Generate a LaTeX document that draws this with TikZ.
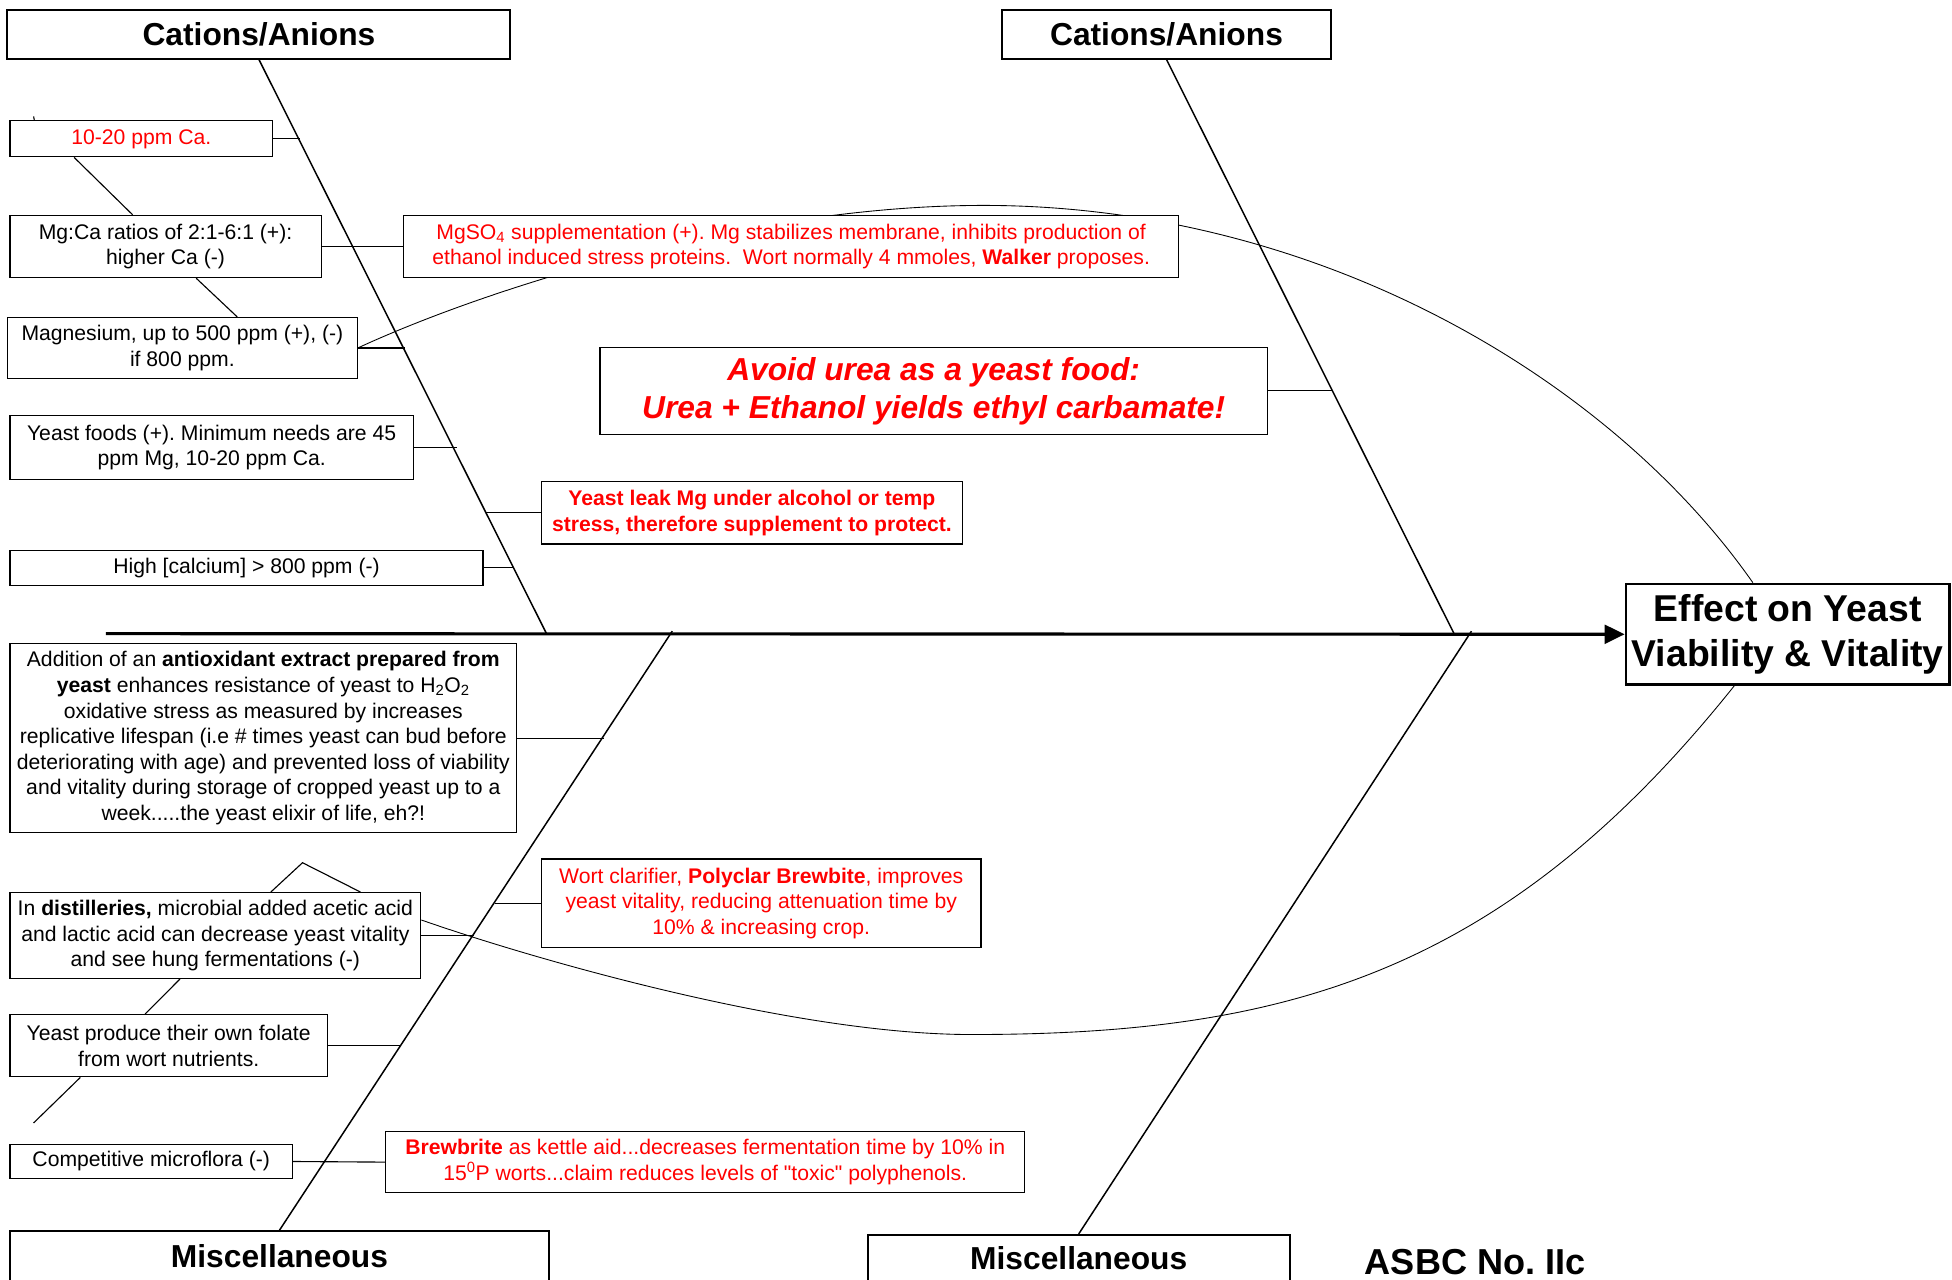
\documentclass[tikz,border=0pt]{standalone}
\usepackage{fontspec}
\setmainfont{Liberation Sans}
\usetikzlibrary{arrows.meta,backgrounds}
\newcommand\fsz[2]{\fontsize{#1}{#2}\selectfont}
\frenchspacing
\begin{document}
\begin{tikzpicture}[x=1pt,y=-1pt,
  box/.style={draw=black, line width=0.9pt, fill=white, inner sep=0pt, align=center, font=\fsz{17}{20.6}},
  redbox/.style={box, text=red},
  hdr/.style={draw=black, line width=1.6pt, fill=white, inner sep=0pt, font=\fsz{25.5}{30}\bfseries},
  bone/.style={line width=1.2pt},
  link/.style={line width=0.9pt},
  loopline/.style={line width=0.7pt},
]
\useasboundingbox (0,0) rectangle (1568,1028);

% headers
\node[hdr, minimum width=404pt, minimum height=39pt] (hTL) at (208,27.5) {Cations/Anions};
\node[hdr, minimum width=264pt, minimum height=39pt] (hTR) at (937,27.5) {Cations/Anions};
\node[hdr, minimum width=433pt, minimum height=40pt] (hBL) at (224.5,1009) {Miscellaneous};
\node[hdr, minimum width=339pt, minimum height=38pt] (hBR) at (866.5,1011) {Miscellaneous};
\node[font=\fsz{29}{34}\bfseries, inner sep=0pt] (asbc) at (1185,1014) {ASBC No. IIc};
\node[draw, line width=2pt, fill=white, inner sep=0pt, align=center, font=\fsz{30}{36}\bfseries,
      minimum width=260pt, minimum height=81pt] (eff) at (1436,509.5) {Effect on Yeast\\Viability \& Vitality};

% cause boxes
\node[redbox, minimum width=211pt, minimum height=29pt] (ca) at (113.5,111.5) {10-20 ppm Ca.};
\node[box, minimum width=250pt, minimum height=50pt] (mgca) at (133,198) {Mg:Ca ratios of 2:1-6:1 (+):\\higher Ca (-)};
\node[box, minimum width=281pt, minimum height=49pt] (magn) at (146.5,279.5) {Magnesium, up to 500 ppm (+), (-)\\if 800 ppm.};
\node[redbox, minimum width=623pt, minimum height=50pt] (mgso) at (635.5,198)
  {MgSO\textsubscript{4} supplementation (+). Mg stabilizes membrane, inhibits production of\\ethanol induced stress proteins.\ \ Wort normally 4 mmoles, \textbf{Walker} proposes.};
\node[box, minimum width=324pt, minimum height=51pt] (yfood) at (170,359.5) {Yeast foods (+). Minimum needs are 45\\ppm Mg, 10-20 ppm Ca.};
\node[redbox, font=\fsz{17}{20.6}\bfseries, minimum width=338pt, minimum height=50pt] (leak) at (604,412)
  {Yeast leak Mg under alcohol or temp\\stress, therefore supplement to protect.};
\node[box, minimum width=380pt, minimum height=28pt] (hical) at (198,456) {High [calcium] > 800 ppm (-)};
\node[redbox, font=\fsz{25.5}{30.5}\bfseries\itshape, minimum width=536pt, minimum height=70pt] (urea) at (750,314)
  {Avoid urea as a yeast food:\\Urea + Ethanol yields ethyl carbamate!};
\node[box, minimum width=407pt, minimum height=152pt] (anti) at (211.5,593)
  {Addition of an \textbf{antioxidant extract prepared from}\\
   \textbf{yeast} enhances resistance of yeast to H\textsubscript{2}O\textsubscript{2}\\
   oxidative stress as measured by increases\\
   replicative lifespan (i.e \# times yeast can bud before\\
   deteriorating with age) and prevented loss of viability\\
   and vitality during storage of cropped yeast up to a\\
   week.....the yeast elixir of life, eh?!};
\node[box, minimum width=330pt, minimum height=69pt] (dist) at (173,751.5)
  {In \textbf{distilleries,} microbial added acetic acid\\and lactic acid can decrease yeast vitality\\and see hung fermentations (-)};
\node[box, minimum width=255pt, minimum height=50pt] (fol) at (135.5,840) {Yeast produce their own folate\\from wort nutrients.};
\node[box, minimum width=227pt, minimum height=28pt] (micro) at (121.5,933) {Competitive microflora (-)};
\node[redbox, minimum width=353pt, minimum height=71pt] (wort) at (611.5,725.5)
  {Wort clarifier, \textbf{Polyclar Brewbite}, improves\\yeast vitality, reducing attenuation time by\\10\% \& increasing crop.};
\node[redbox, minimum width=513pt, minimum height=49pt] (brew) at (566.5,933.5)
  {\textbf{Brewbrite} as kettle aid...decreases fermentation time by 10\% in\\15\textsuperscript{0}P worts...claim reduces levels of \textquotedbl toxic\textquotedbl{} polyphenols.};

% spine points
\coordinate (tail) at (85,509);
\coordinate (sTL) at (439,509);
\coordinate (sTR) at (1168,509);
\coordinate (sBL) at (540,507);
\coordinate (sBR) at (1182,507);
\coordinate (top) at (790,165);
\coordinate (bot) at (780,831);

\begin{scope}[on background layer]
\draw[loopline] (magn.east) .. controls (390,232) and (600,165) .. (top)
                .. controls (1060,165) and (1294,305) .. ([xshift=-28pt]eff.north);
\draw[loopline] ([xshift=-43pt]eff.south) .. controls (1207,784) and (1030,831) .. (bot)
                .. controls (640,831) and (433,772) .. ([yshift=12.5pt]dist.east);
\draw[bone] (hTL.south) -- (sTL);
\draw[bone] (hTR.south) -- (sTR);
\draw[bone] (sBL) -- (hBL.north);
\draw[bone] (sBR) -- (hBR.north);
\end{scope}

\draw[line width=2.5pt, -{Triangle[length=16pt,width=15pt]}] (tail) -- (eff.west);

% connectors to bones
\coordinate (p1) at (241,111.5);
\coordinate (p3) at (325,279.5);
\coordinate (p4) at (367,359.5);
\coordinate (p5) at (390,412);
\coordinate (p6) at (412,456);
\coordinate (p7) at (1071,314);
\coordinate (p8) at (485,593);
\coordinate (p9) at (381,751.5);
\coordinate (p10) at (322,840);
\coordinate (p12) at (398,725.5);
\coordinate (roof) at (243,693);
\coordinate (free) at (27,902);

\draw[link] (ca.east) -- (p1);
\draw[link] (mgca.east) -- (mgso.west);
\draw[link] (magn.east) -- (p3);
\draw[link] (yfood.east) -- (p4);
\draw[link] (leak.west) -- (p5);
\draw[link] (hical.east) -- (p6);
\draw[link] (urea.east) -- (p7);
\draw[link] (anti.east) -- (p8);
\draw[link] (dist.east) -- (p9);
\draw[link] (fol.east) -- (p10);
\draw[link] (micro.east) -- (brew.west);
\draw[link] (wort.west) -- (p12);

% links between boxes
\draw[link] ([xshift=20pt]ca.north west) -- ++(-0.5,-3);
\draw[link] ([xshift=52pt]ca.south west) -- ([xshift=99pt]mgca.north west);
\draw[link] ([xshift=150pt]mgca.south west) -- ([xshift=185pt]magn.north west);
\draw[link] ([xshift=210pt]dist.north west) -- (roof) -- ([xshift=282pt]dist.north west);
\draw[link] ([xshift=137pt]dist.south west) -- ([xshift=109pt]fol.north west);
\draw[link] ([xshift=57pt]fol.south west) -- (free);
\end{tikzpicture}
\end{document}
